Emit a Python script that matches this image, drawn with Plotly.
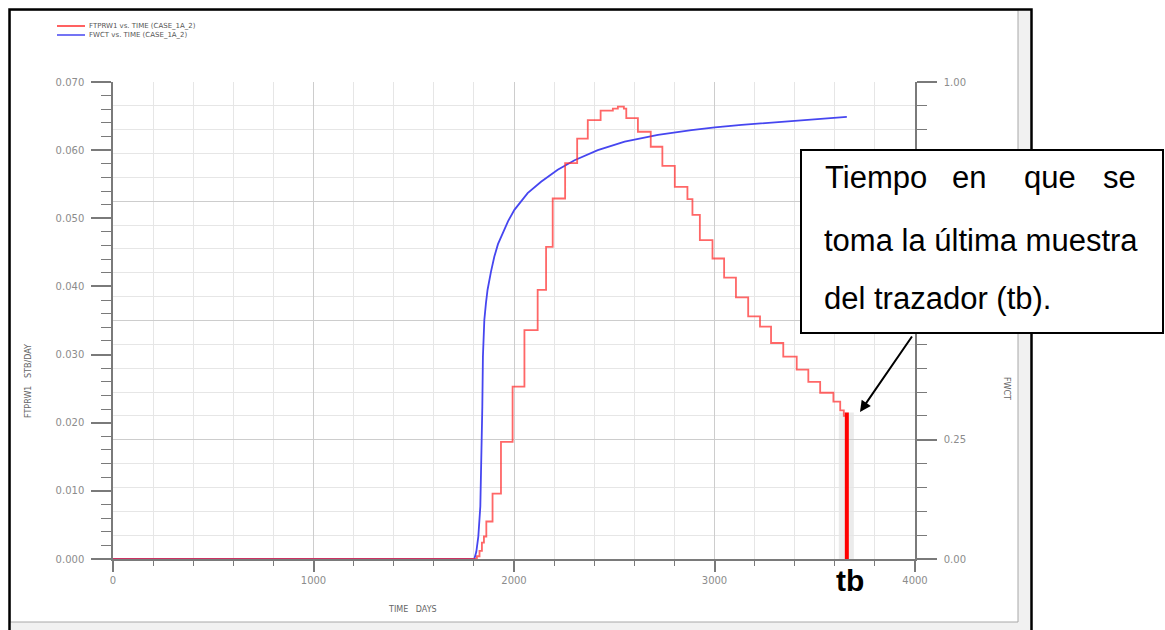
import plotly.graph_objects as go

# FTPRW1 tracer production rate (STB/DAY), step values starting at each day
ftp_days = [0, 1815, 1828, 1840, 1850, 1862, 1893, 1935, 1993, 2052, 2118, 2160,
            2193, 2255, 2315, 2368, 2432, 2493, 2518, 2548, 2560, 2618, 2682,
            2740, 2802, 2865, 2890, 2927, 2990, 3048, 3107, 3168, 3227, 3282,
            3343, 3410, 3468, 3527, 3593, 3627, 3645, 3660]
ftp_vals = [0.0, 0.0004, 0.0012, 0.0024, 0.0033, 0.0055, 0.0096, 0.0172, 0.0253,
            0.0336, 0.0395, 0.0458, 0.0529, 0.0581, 0.0617, 0.0644, 0.0658,
            0.0661, 0.0664, 0.0661, 0.0647, 0.0627, 0.0605, 0.0577, 0.0546,
            0.0528, 0.0505, 0.0468, 0.0441, 0.0413, 0.0384, 0.0356, 0.0341,
            0.0317, 0.0297, 0.0278, 0.0260, 0.0244, 0.0231, 0.0218, 0.0210,
            0.0210]

# FWCT water cut (fraction)
fwct_days = [0, 1802, 1812, 1822, 1832, 1838, 1842, 1845, 1852, 1860, 1868, 1885,
             1902, 1920, 1943, 1970, 2002, 2068, 2135, 2218, 2302, 2418, 2552,
             2718, 2885, 3002, 3135, 3335, 3500, 3660]
fwct_vals = [0.0, 0.0, 0.015, 0.047, 0.110, 0.214, 0.319, 0.424, 0.501, 0.536,
             0.564, 0.602, 0.634, 0.660, 0.683, 0.708, 0.732, 0.767, 0.791,
             0.816, 0.836, 0.857, 0.875, 0.889, 0.899, 0.905, 0.910, 0.916,
             0.921, 0.927]

# last tracer sample (tb)
tb_day = 3660
tb_rate = 0.0215

legend_labels = ["FTPRW1 vs. TIME (CASE_1A_2)", "FWCT vs. TIME (CASE_1A_2)"]
note_line1 = ["Tiempo", "en", "que", "se"]
note_line2 = "toma la última muestra"
note_line3 = "del trazador (tb)."

W, H = 1165, 630
L, R, T, B = 113, 915, 82, 559


def px(x):
    return (x - L) / (R - L)


def py(y):
    return (B - y) / (B - T)


RED = "rgb(255,45,45)"
BLUE = "rgb(70,70,240)"
TICK_FONT = dict(family="DejaVu Sans", size=10, color="#8c8c8c")
RATE_RANGE = [0, 0.07]

fig = go.Figure()

fig.add_trace(go.Scatter(x=fwct_days, y=fwct_vals, mode="lines", yaxis="y2",
                         line=dict(color=BLUE, width=1.8), showlegend=False))
# the rate curve sits on a hidden twin of the left axis so it draws over FWCT
fig.add_trace(go.Scatter(x=ftp_days, y=ftp_vals, mode="lines", yaxis="y3",
                         line=dict(color=RED, width=1.8, shape="hv"),
                         opacity=0.72, showlegend=False))
fig.add_trace(go.Scatter(x=[tb_day, tb_day], y=[0, tb_rate], mode="lines",
                         yaxis="y3", line=dict(color="#ff0000", width=4),
                         showlegend=False))

shapes = [
    # page frame
    dict(type="rect", xref="paper", yref="paper", x0=px(10), x1=px(1031),
         y0=py(645), y1=py(10), fillcolor="#f1f1f1", line=dict(width=0),
         layer="below"),
    dict(type="rect", xref="paper", yref="paper", x0=px(10), x1=px(1018),
         y0=py(622), y1=py(10), fillcolor="white",
         line=dict(color="#a8a8a8", width=1), layer="below"),
    dict(type="rect", xref="x", yref="y", x0=tb_day - 40, x1=tb_day + 35,
         y0=0, y1=tb_rate, fillcolor="rgba(190,190,190,0.3)",
         line=dict(width=0), layer="below"),
    dict(type="rect", xref="paper", yref="paper", x0=px(9.5), x1=px(1031.5),
         y0=py(660), y1=py(9.5), line=dict(color="black", width=2.5)),
    # legend swatches
    dict(type="line", xref="paper", yref="paper", x0=px(57), x1=px(85),
         y0=py(26), y1=py(26), line=dict(color=RED, width=1.5)),
    dict(type="line", xref="paper", yref="paper", x0=px(57), x1=px(85),
         y0=py(35), y1=py(35), line=dict(color=BLUE, width=1.5)),
    # note box
    dict(type="rect", xref="paper", yref="paper", x0=px(801), x1=px(1163),
         y0=py(333), y1=py(150), fillcolor="white",
         line=dict(color="black", width=2)),
]

NOTE_FONT = dict(family="Liberation Sans, Arial", size=31, color="black")
ann = []
for txt, yy in zip(legend_labels, [26, 35]):
    ann.append(dict(xref="paper", yref="paper", x=px(87), y=py(yy), text=txt,
                    showarrow=False, xanchor="left", yanchor="middle",
                    font=dict(family="DejaVu Sans", size=7, color="#555")))

for txt, xx, anc in zip(note_line1, [823, 950, 1022, 1138],
                        ["left", "left", "left", "right"]):
    ann.append(dict(xref="paper", yref="paper", x=px(xx), y=py(177), text=txt,
                    showarrow=False, xanchor=anc, yanchor="middle",
                    font=NOTE_FONT))
ann.append(dict(xref="paper", yref="paper", x=px(822), y=py(240), text=note_line2,
                showarrow=False, xanchor="left", yanchor="middle", font=NOTE_FONT))
ann.append(dict(xref="paper", yref="paper", x=px(822), y=py(298), text=note_line3,
                showarrow=False, xanchor="left", yanchor="middle", font=NOTE_FONT))

# arrow from the note to the last sample
ann.append(dict(xref="paper", yref="paper", x=px(860), y=py(412), ax=53, ay=-77,
                text="", showarrow=True, arrowhead=2, arrowsize=1.1,
                arrowwidth=2, arrowcolor="black", standoff=0))

ann.append(dict(xref="paper", yref="paper", x=px(850), y=py(580), text="<b>tb</b>",
                showarrow=False, xanchor="center", yanchor="middle",
                font=dict(family="Liberation Sans, Arial", size=30, color="black")))

# axis titles
ann.append(dict(xref="paper", yref="paper", x=px(412), y=py(609),
                text="TIME\u00a0\u00a0\u00a0DAYS", showarrow=False,
                xanchor="center", yanchor="middle",
                font=dict(family="DejaVu Sans", size=8, color="#666")))
ann.append(dict(xref="paper", yref="paper", x=px(29), y=py(381),
                text="FTPRW1\u00a0\u00a0\u00a0STB/DAY", showarrow=False,
                textangle=-90, xanchor="center", yanchor="middle",
                font=dict(family="DejaVu Sans", size=8, color="#666")))
ann.append(dict(xref="paper", yref="paper", x=px(1007), y=py(388),
                text="FWCT", showarrow=False, textangle=90,
                xanchor="center", yanchor="middle",
                font=dict(family="DejaVu Sans", size=8, color="#666")))

AXIS_COLOR = "#7a7a7a"
fig.update_layout(
    width=W, height=H,
    margin=dict(l=L, r=W - R, t=T, b=H - B, pad=0),
    paper_bgcolor="white", plot_bgcolor="white",
    showlegend=False,
    xaxis=dict(range=[0, 4000], dtick=1000, tick0=0, showgrid=True,
               gridcolor="#cdcdcd", gridwidth=1, zeroline=False,
               showline=True, linecolor=AXIS_COLOR, linewidth=1.5,
               ticks="outside", ticklen=11, tickwidth=2, tickcolor=AXIS_COLOR,
               tickfont=TICK_FONT, ticklabelstandoff=0,
               minor=dict(dtick=200, tick0=0, ticks="outside", ticklen=5,
                          tickwidth=1, tickcolor=AXIS_COLOR, showgrid=True,
                          gridcolor="#e6e6e6", gridwidth=1)),
    yaxis=dict(range=RATE_RANGE, dtick=0.01, tick0=0, tickformat=".3f",
               showgrid=False, zeroline=False, showline=True,
               linecolor=AXIS_COLOR, linewidth=1.5, ticks="outside",
               ticklen=20, tickwidth=2, tickcolor=AXIS_COLOR,
               tickfont=TICK_FONT, ticklabelstandoff=5,
               minor=dict(dtick=0.002, tick0=0, ticks="outside", ticklen=10,
                          tickwidth=1, tickcolor=AXIS_COLOR, showgrid=False)),
    yaxis2=dict(range=[0, 1], dtick=0.25, tick0=0, tickformat=".2f",
                overlaying="y", side="right", showgrid=True,
                gridcolor="#cdcdcd", gridwidth=1, zeroline=False,
                showline=True, linecolor=AXIS_COLOR, linewidth=1.5,
                ticks="outside", ticklen=20, tickwidth=2, tickcolor=AXIS_COLOR,
                tickfont=TICK_FONT, ticklabelstandoff=5,
                minor=dict(dtick=0.05, tick0=0, ticks="outside", ticklen=10,
                           tickwidth=1, tickcolor=AXIS_COLOR, showgrid=True,
                           gridcolor="#e6e6e6", gridwidth=1)),
    yaxis3=dict(range=RATE_RANGE, overlaying="y", visible=False,
                showgrid=False, zeroline=False),
    shapes=shapes,
    annotations=ann,
)

fig.write_html("out.html")
